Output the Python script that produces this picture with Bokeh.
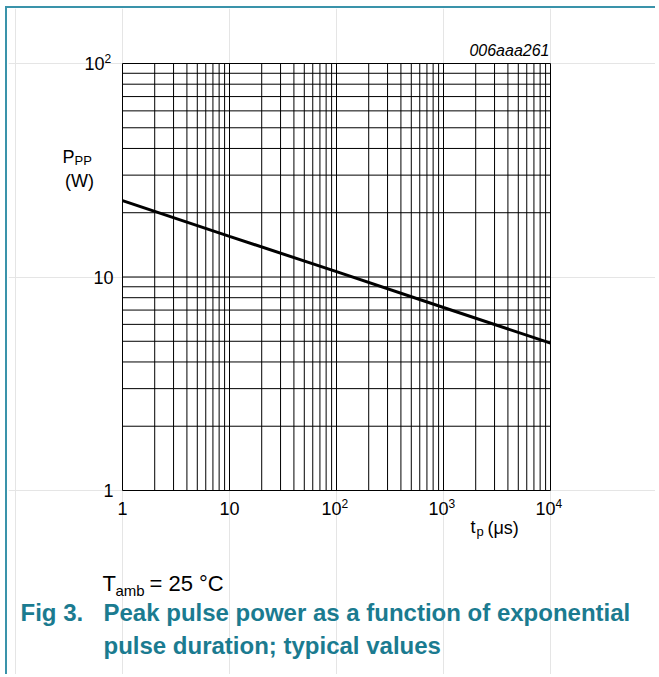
import math
from bokeh.plotting import figure
from bokeh.models import Range1d, LinearScale
from bokeh.core.properties import value
from bokeh.embed import file_html
from bokeh.resources import INLINE

# ---- data ----
tp_us = [1, 10, 100, 1000, 10000]
ppp_w = [22.8, 15.5, 10.6, 7.2, 4.9]

x_tick_vals = [1, 10, 100, 1000, 10000]
x_tick_base = ["1", "10", "10", "10", "10"]
x_tick_exp = ["", "", "2", "3", "4"]
y_tick_vals = [1, 10, 100]
y_tick_base = ["1", "10", "10"]
y_tick_exp = ["", "", "2"]

FONT = value("Liberation Sans")
TEAL = "#1b7b90"
W, H = 650, 668
OX, OY = 8, 8
FL, FR, FT, FB = 122, 550, 63, 490  # desired frame edges in window px
XMIN, XMAX, YMIN, YMAX = 1, 1e4, 1, 100

# log ranges stretched so that the data box lands on the desired pixels
ppd_x = (FR - FL) / (math.log10(XMAX) - math.log10(XMIN))
ppd_y = (FB - FT) / (math.log10(YMAX) - math.log10(YMIN))
x0 = 10 ** (math.log10(XMIN) - (FL - OX) / ppd_x)
x1 = 10 ** (math.log10(XMAX) + (OX + W - FR) / ppd_x)
y0 = 10 ** (math.log10(YMIN) - (OY + H - FB) / ppd_y)
y1 = 10 ** (math.log10(YMAX) + (FT - OY) / ppd_y)

p = figure(width=W, height=H, x_axis_type="log", y_axis_type="log",
           x_range=Range1d(x0, x1), y_range=Range1d(y0, y1),
           x_axis_location=None, y_axis_location=None,
           output_backend="svg", toolbar_location=None,
           min_border=0)
p.styles = {"margin-left": "5px", "margin-top": "6px",
            "border-left": "2px solid #3a93aa", "border-top": "2px solid #3a93aa",
            "padding-left": "1px"}
p.outline_line_color = None
p.background_fill_color = "white"
p.border_fill_color = "white"

# pixel ranges for free-standing text (window coordinates)
p.extra_x_ranges = {"px": Range1d(OX, OX + W)}
p.extra_y_ranges = {"py": Range1d(OY + H, OY)}
p.extra_x_scales = {"px": LinearScale()}
p.extra_y_scales = {"py": LinearScale()}

# grid (major + minor decades)
grid_x = sorted(set(x_tick_vals + [m * 10 ** d for d in range(4) for m in range(2, 10)]))
grid_y = sorted(set(y_tick_vals + [m * 10 ** d for d in range(2) for m in range(2, 10)]))
p.segment(x0=grid_x, y0=[YMIN] * len(grid_x), x1=grid_x, y1=[YMAX] * len(grid_x),
          line_color="black", line_width=1)
p.segment(x0=[XMIN] * len(grid_y), y0=grid_y, x1=[XMAX] * len(grid_y), y1=grid_y,
          line_color="black", line_width=1)

p.line(tp_us, ppp_w, line_width=3, line_color="black")

TICK_FS = value("18px")
EXP_FS = value("12px")

# x tick labels
xs_plain = [v for v, e in zip(x_tick_vals, x_tick_exp) if e == ""]
xt_plain = [b for b, e in zip(x_tick_base, x_tick_exp) if e == ""]
xs_pow = [v for v, e in zip(x_tick_vals, x_tick_exp) if e != ""]
xt_pow = [b for b, e in zip(x_tick_base, x_tick_exp) if e != ""]
xe_pow = [e for e in x_tick_exp if e != ""]
p.text(x=xs_plain, y=[YMIN] * len(xs_plain), text=xt_plain, text_align="center",
       text_baseline="middle", y_offset=18, text_font=FONT, text_font_size=TICK_FS, text_color="black")
p.text(x=xs_pow, y=[YMIN] * len(xs_pow), text=xt_pow, text_align="right",
       text_baseline="middle", x_offset=5, y_offset=18, text_font=FONT, text_font_size=TICK_FS, text_color="black")
p.text(x=xs_pow, y=[YMIN] * len(xs_pow), text=xe_pow, text_align="left",
       text_baseline="middle", x_offset=5, y_offset=13, text_font=FONT, text_font_size=EXP_FS, text_color="black")

# y tick labels
ys_plain = [v for v, e in zip(y_tick_vals, y_tick_exp) if e == ""]
yt_plain = [b for b, e in zip(y_tick_base, y_tick_exp) if e == ""]
ys_pow = [v for v, e in zip(y_tick_vals, y_tick_exp) if e != ""]
yt_pow = [b for b, e in zip(y_tick_base, y_tick_exp) if e != ""]
ye_pow = [e for e in y_tick_exp if e != ""]
p.text(x=[XMIN] * len(ys_plain), y=ys_plain, text=yt_plain, text_align="right",
       text_baseline="middle", x_offset=-9, text_font=FONT, text_font_size=TICK_FS, text_color="black")
p.text(x=[XMIN] * len(ys_pow), y=ys_pow, text=yt_pow, text_align="right",
       text_baseline="middle", x_offset=-18, text_font=FONT, text_font_size=TICK_FS, text_color="black")
p.text(x=[XMIN] * len(ys_pow), y=ys_pow, text=ye_pow, text_align="left",
       text_baseline="middle", x_offset=-18, y_offset=-5, text_font=FONT, text_font_size=EXP_FS, text_color="black")


def lab(text, wx, wy, size="18px", align="left", color="black", style="normal"):
    p.text(x=[wx], y=[wy], text=[text], x_range_name="px", y_range_name="py",
           text_align=align, text_baseline="middle", text_font=FONT,
           text_font_size=value(size), text_color=color, text_font_style=value(style))


lab("006aaa261", 549, 50, size="16px", align="right", style="italic")
lab("P", 62, 156)
lab("PP", 74, 160, size="13px")
lab("(W)", 79, 180, align="center")
lab("t", 470, 526)
lab("p", 476, 531, size="13px")
lab("(\u03bcs)", 487, 527)
lab("T", 102, 583, size="22px")
lab("amb", 115, 590, size="15px")
lab("= 25 \u00b0C", 149, 583, size="22px")
lab("Fig 3.", 20, 612, size="24px", color=TEAL, style="bold")
lab("Peak pulse power as a function of exponential", 103, 612, size="24px", color=TEAL, style="bold")
lab("pulse duration; typical values", 103, 645, size="24px", color=TEAL, style="bold")

open("out.html", "w").write(file_html(p, INLINE))
